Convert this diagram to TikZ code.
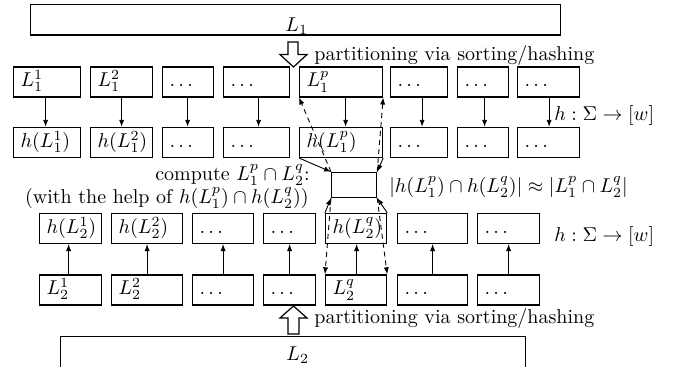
\documentclass[tikz,border=0pt]{standalone}
\usetikzlibrary{arrows.meta}
\begin{document}
\begin{tikzpicture}[x=0.5pt,y=-0.5pt,
  cell/.style={draw, line width=0.6pt, text width=#1, align=left, inner xsep=3.5pt, inner ysep=0pt, text height=10pt, text depth=5pt, anchor=south west},
  bigbox/.style={draw, line width=0.6pt, inner sep=0pt},
  conn/.style={line width=0.45pt, -{Latex[length=3.5pt,width=2.6pt]}},
  dconn/.style={conn, dash pattern=on 2.5pt off 2pt},
  hollow/.style={draw, line width=0.6pt, fill=white, line join=miter},
  lab/.style={inner sep=0pt}]
\useasboundingbox (0,0) rectangle (677,366);

% big boxes
\node[bigbox, minimum width=265pt, minimum height=15.25pt, anchor=south west] (L1) at (30,35.5) {};
\node[lab, anchor=base west] (L1t) at (285,31.5) {$L_1$};
\node[bigbox, minimum width=232.5pt, minimum height=16pt, anchor=north west] (L2) at (60,336) {};
\node[lab, anchor=base west] (L2t) at (286,360) {$L_2$};

% hollow arrows
\draw[hollow] (288,42) -- (298,42) -- (298,54.5) -- (307,54.5) -- (293.5,67) -- (280,54.5) -- (288,54.5) -- cycle;
\draw[hollow] (288,334) -- (299,334) -- (299,318) -- (307,318) -- (293.5,306) -- (280,318) -- (288,318) -- cycle;
\node[lab, anchor=base west] (p1) at (314,60) {partitioning via sorting/hashing};
\node[lab, anchor=base west] (p2) at (314,323) {partitioning via sorting/hashing};

% row 1
\node[cell=26.5pt] (a1) at (13,97.5) {$L_1^1$};
\node[cell=24pt]   (a2) at (90,97.5) {$L_1^2$};
\node[cell=18.5pt] (a3) at (162,97.5) {$\ldots$};
\node[cell=26pt]   (a4) at (223,97.5) {$\ldots$};
\node[cell=34.5pt] (a5) at (299,97.5) {$L_1^p$};
\node[cell=21.5pt] (a6) at (390,97.5) {$\ldots$};
\node[cell=18.5pt] (a7) at (457,97.5) {$\ldots$};
\node[cell=24pt]   (a8) at (517,97.5) {$\ldots$};
% row 2
\node[cell=26.5pt] (b1) at (13,158) {$h(L_1^1)$};
\node[cell=24pt]   (b2) at (90,158) {$h(L_1^2)$};
\node[cell=18.5pt] (b3) at (162,158) {$\ldots$};
\node[cell=26pt]   (b4) at (223,158) {$\ldots$};
\node[cell=34.5pt] (b5) at (299,158) {$h(L_1^p)$};
\node[cell=21.5pt] (b6) at (390,158) {$\ldots$};
\node[cell=18.5pt] (b7) at (457,158) {$\ldots$};
\node[cell=24pt]   (b8) at (517,158) {$\ldots$};
% row 3
\node[cell=24pt]   (c1) at (39,244) {$h(L_2^1)$};
\node[cell=28.5pt] (c2) at (111,244) {$h(L_2^2)$};
\node[cell=23.5pt] (c3) at (192,244) {$\ldots$};
\node[cell=19pt]   (c4) at (263,244) {$\ldots$};
\node[cell=23.5pt] (c5) at (325,244) {$h(L_2^q)$};
\node[cell=28pt]   (c6) at (397,244) {$\ldots$};
\node[cell=24pt]   (c7) at (477,244) {$\ldots$};
% row 4
\node[cell=24pt]   (d1) at (39,305.5) {$L_2^1$};
\node[cell=28.5pt] (d2) at (111,305.5) {$L_2^2$};
\node[cell=23.5pt] (d3) at (192,305.5) {$\ldots$};
\node[cell=19pt]   (d4) at (263,305.5) {$\ldots$};
\node[cell=23.5pt] (d5) at (325,305.5) {$L_2^q$};
\node[cell=28pt]   (d6) at (397,305.5) {$\ldots$};
\node[cell=24pt]   (d7) at (477,305.5) {$\ldots$};

% middle box
\node[bigbox, minimum width=22.5pt, minimum height=12.5pt, anchor=south west] (m) at (331,198) {};

% vertical arrows
\foreach \i/\s in {1/-1.5,2/0,3/-0.5,4/2,5/4.5,6/3,7/1.5,8/0.5}
  \draw[conn] ([xshift=\s*0.5pt]a\i.south) -- ([xshift=\s*0.5pt]b\i.north);
\foreach \i/\s in {1/-2,2/0,3/0,4/0,5/0.5,6/0,7/0}
  \draw[conn] ([xshift=\s*0.5pt]d\i.north) -- ([xshift=\s*0.5pt]c\i.south);

% connectors to the middle box
\draw[conn] (b5.south west) -- (m.north west);
\draw[conn] (b5.south east) -- (m.north east);
\draw[dconn] (m.north west) -- (a5.south west);
\draw[dconn] (m.north east) -- (a5.south east);
\draw[conn] (c5.north west) -- (m.south west);
\draw[conn] (c5.north east) -- (m.south east);
\draw[dconn] (m.south west) -- (d5.north west);
\draw[dconn] (m.south east) -- (d5.north east);

% texts
\node[lab, anchor=base west] (h1) at (554,120) {$h:\Sigma\to[w]$};
\node[lab, anchor=base west] (h2) at (554,241) {$h:\Sigma\to[w]$};
\node[lab, anchor=base west] (ap) at (389,192) {$|h(L_1^p)\cap h(L_2^q)|\approx|L_1^p\cap L_2^q|$};
\node[lab, anchor=base east] (cp) at (310,180.5) {compute $L_1^p\cap L_2^q$:};
\node[lab, anchor=base east] (wh) at (309,203.5) {(with the help of $h(L_1^p)\cap h(L_2^q)$)};
\end{tikzpicture}
\end{document}
